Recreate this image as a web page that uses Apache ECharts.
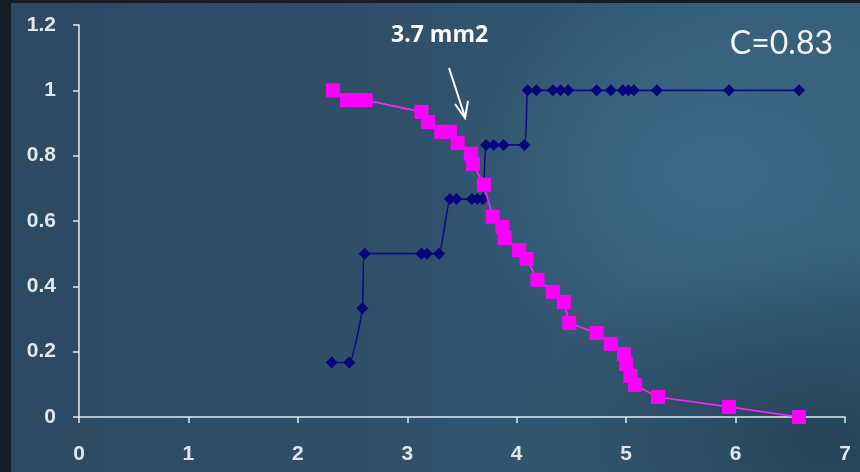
<!DOCTYPE html>
<html>
<head>
<meta charset="utf-8">
<script src="https://cdn.jsdelivr.net/npm/echarts@6/dist/echarts.min.js"></script>
<style>
html,body{margin:0;padding:0;width:860px;height:472px;overflow:hidden;background:#141d28;}
#bg{position:absolute;left:11px;top:3px;width:849px;height:469px;
background:
radial-gradient(ellipse 260px 200px at 690px 170px, rgba(70,120,150,0.5), rgba(70,120,150,0) 100%),
radial-gradient(ellipse 300px 220px at 820px 440px, rgba(20,40,55,0.5), rgba(20,40,55,0) 100%),
linear-gradient(90deg,#2c4a62 0%,#30506a 45%,#345a74 75%,#36607a 100%);}
#chart{position:absolute;left:0;top:0;width:860px;height:472px;}
</style>
</head>
<body>
<div id="bg"></div>
<div id="chart"></div>
<script>
// Blue (increasing cumulative) series
const blueX = [2.31, 2.47, 2.59, 2.61, 3.13, 3.18, 3.29, 3.39, 3.45, 3.59, 3.64, 3.69, 3.72, 3.79, 3.88, 4.07, 4.10, 4.18, 4.33, 4.40, 4.47, 4.73, 4.86, 4.97, 5.02, 5.07, 5.28, 5.94, 6.58];
const blueY = [0.167, 0.167, 0.333, 0.5, 0.5, 0.5, 0.5, 0.667, 0.667, 0.667, 0.667, 0.667, 0.833, 0.833, 0.833, 0.833, 1, 1, 1, 1, 1, 1, 1, 1, 1, 1, 1, 1, 1];
// Magenta (decreasing) series
const pinkX = [2.32, 2.45, 2.54, 2.62, 3.13, 3.19, 3.31, 3.39, 3.46, 3.58, 3.60, 3.70, 3.78, 3.87, 3.89, 4.02, 4.09, 4.19, 4.33, 4.43, 4.48, 4.73, 4.86, 4.98, 5.00, 5.04, 5.08, 5.29, 5.94, 6.58];
const pinkY = [1.0, 0.97, 0.97, 0.97, 0.934, 0.903, 0.873, 0.873, 0.839, 0.806, 0.775, 0.711, 0.613, 0.582, 0.548, 0.511, 0.484, 0.42, 0.383, 0.352, 0.288, 0.257, 0.224, 0.193, 0.162, 0.126, 0.098, 0.061, 0.031, 0.0];
const xTicks = [0, 1, 2, 3, 4, 5, 6, 7];
const yTicks = [0, 0.2, 0.4, 0.6, 0.8, 1, 1.2];
const titleText = 'C=0.83';
const annotText = '3.7 mm2';

const chart = echarts.init(document.getElementById('chart'), null, {renderer: 'canvas'});
const axisCol = '#e6e9ec';
const labelFont = {color: '#e2e6ea', fontSize: 21, fontWeight: 'bold', fontFamily: 'Liberation Sans, Arial, sans-serif'};

chart.setOption({
  backgroundColor: 'transparent',
  animation: false,
  grid: {left: 79, right: 15, top: 25, bottom: 55},
  xAxis: {
    type: 'value', min: xTicks[0], max: xTicks[xTicks.length - 1], interval: 1,
    axisLine: {show: true, onZero: false, lineStyle: {color: axisCol, width: 1.5}},
    axisTick: {show: true, length: 6, lineStyle: {color: axisCol, width: 1.5}},
    axisLabel: Object.assign({margin: 27}, labelFont),
    splitLine: {show: false}
  },
  yAxis: {
    type: 'value', min: yTicks[0], max: yTicks[yTicks.length - 1], interval: 0.2,
    axisLine: {show: true, lineStyle: {color: axisCol, width: 1.5}},
    axisTick: {show: true, length: 6, lineStyle: {color: axisCol, width: 1.5}},
    axisLabel: Object.assign({margin: 23, formatter: v => String(+v.toFixed(1))}, labelFont),
    splitLine: {show: false}
  },
  title: {
    text: titleText, right: 22, top: 23,
    textStyle: {color: '#f2f4f6', fontSize: 32, fontWeight: 'normal', fontFamily: 'Lato, Open Sans, sans-serif'}
  },
  graphic: [
    {type: 'text', left: 391, top: 24, style: {text: annotText, fill: '#ffffff', font: 'bold 23px "Open Sans", Lato, sans-serif'}},
    {type: 'line', shape: {x1: 449, y1: 68, x2: 465, y2: 117}, style: {stroke: '#ffffff', lineWidth: 2}},
    {type: 'polyline', shape: {points: [[455, 104], [465, 118], [468, 101]]}, style: {stroke: '#ffffff', lineWidth: 2, fill: null}}
  ],
  series: [
    {
      type: 'line', data: blueX.map((x, i) => [x, blueY[i]]),
      symbol: 'diamond', symbolSize: 12, smooth: 0.15,
      itemStyle: {color: '#06067e'}, lineStyle: {color: '#0c0c88', width: 1.6}, z: 2
    },
    {
      type: 'line', data: pinkX.map((x, i) => [x, pinkY[i]]),
      symbol: 'rect', symbolSize: 14,
      itemStyle: {color: '#ff00ff'}, lineStyle: {color: '#ff20ff', width: 1.6}, z: 3
    }
  ]
});
</script>
</body>
</html>
